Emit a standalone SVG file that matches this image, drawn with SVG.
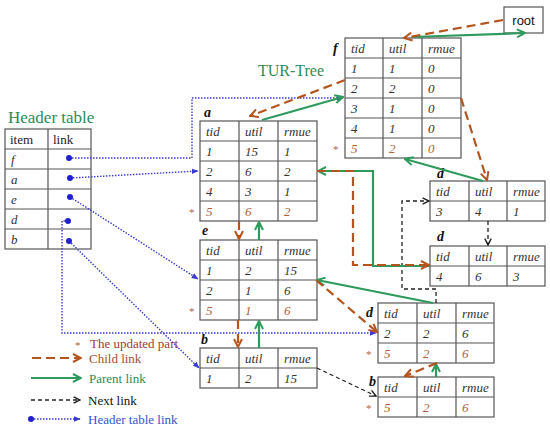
<svg xmlns="http://www.w3.org/2000/svg" width="550" height="428" viewBox="0 0 550 428">
<defs>
<style>
.cell{fill:#fff;stroke:#555;stroke-width:1.2}
.ln{stroke:#555;stroke-width:1.2}
.sf{font-family:"Liberation Serif","Times New Roman","DejaVu Serif",serif}
.t{font-family:"Liberation Serif","Times New Roman","DejaVu Serif",serif;font-size:13px;font-style:italic;fill:#333}
.u{font-family:"Liberation Serif","Times New Roman","DejaVu Serif",serif;font-size:13px;font-style:italic;fill:#b0603a}
.lbl{font-family:"Liberation Serif","Times New Roman","DejaVu Serif",serif;font-size:14px;font-style:italic;font-weight:bold;fill:#111}
.ast{font-family:"Liberation Serif","Times New Roman","DejaVu Serif",serif;font-size:11px;fill:#b0603a}
.ch{fill:none;stroke:#b5541c;stroke-width:2.2;stroke-dasharray:9,5}
.pa{fill:none;stroke:#2e9a5e;stroke-width:2.2}
.nx{fill:none;stroke:#222;stroke-width:1.3;stroke-dasharray:4,3}
.hl{fill:none;stroke:#3a3ad0;stroke-width:1.4;stroke-dasharray:1.5,1.5}
.n{font-family:"Liberation Serif","Times New Roman","DejaVu Serif",serif;font-size:13px;fill:#222}
</style>
<marker id="mb" viewBox="0 0 10 10" refX="9" refY="5" markerWidth="10" markerHeight="10" markerUnits="userSpaceOnUse" orient="auto"><path d="M1,1 L9,5 L1,9" fill="none" stroke="#b5541c" stroke-width="2"/></marker>
<marker id="mg" viewBox="0 0 10 10" refX="9" refY="5" markerWidth="10" markerHeight="10" markerUnits="userSpaceOnUse" orient="auto"><path d="M1,1 L9,5 L1,9" fill="none" stroke="#2e9a5e" stroke-width="2"/></marker>
<marker id="mk" viewBox="0 0 10 10" refX="9" refY="5" markerWidth="8" markerHeight="8" markerUnits="userSpaceOnUse" orient="auto"><path d="M1,1 L9,5 L1,9" fill="none" stroke="#222" stroke-width="1.8"/></marker>
<marker id="ml" viewBox="0 0 10 10" refX="9" refY="5" markerWidth="7" markerHeight="7" markerUnits="userSpaceOnUse" orient="auto"><path d="M0,1 L10,5 L0,9 Z" fill="#3a3ad0"/></marker>
<marker id="md" viewBox="0 0 10 10" refX="5" refY="5" markerWidth="6" markerHeight="6" markerUnits="userSpaceOnUse"><circle cx="5" cy="5" r="5" fill="#2020d0"/></marker>
</defs>
<rect width="550" height="428" fill="#fff"/>

<text x="8" y="123" class="sf" font-size="17" fill="#2e8b57">Header table</text>
<text x="258" y="76" class="sf" font-size="16" fill="#2e8b57">TUR-Tree</text>

<g id="root"><rect x="504" y="7" width="39" height="26" class="cell"/><text x="523.5" y="25" text-anchor="middle" font-family="'Liberation Sans',Arial,sans-serif" font-size="13" fill="#111">root</text></g>

<g id="header-table">
<rect x="5" y="129" width="86" height="120" class="cell"/>
<path class="ln" d="M48,129 V249 M5,149 H91 M5,169 H91 M5,189 H91 M5,209 H91 M5,229 H91"/>
<text x="10" y="144" class="n">item</text><text x="53" y="144" class="n">link</text>
<text x="11" y="164" class="t">f</text><text x="11" y="184" class="t">a</text><text x="11" y="204" class="t">e</text><text x="11" y="224" class="t">d</text><text x="11" y="244" class="t">b</text>
</g>

<g id="node-f">
<text x="333" y="53" class="lbl">f</text>
<rect x="345" y="38" width="116" height="120" class="cell"/>
<path class="ln" d="M383,38 V158 M422,38 V158 M345,58 H461 M345,78 H461 M345,98 H461 M345,118 H461 M345,138 H461"/>
<text x="351" y="53" class="t">tid</text><text x="389" y="53" class="t">util</text><text x="428" y="53" class="t">rmue</text>
<text x="351" y="73" class="t">1</text><text x="389" y="73" class="t">1</text><text x="428" y="73" class="t">0</text>
<text x="351" y="93" class="t">2</text><text x="389" y="93" class="t">2</text><text x="428" y="93" class="t">0</text>
<text x="351" y="113" class="t">3</text><text x="389" y="113" class="t">1</text><text x="428" y="113" class="t">0</text>
<text x="351" y="133" class="t">4</text><text x="389" y="133" class="t">1</text><text x="428" y="133" class="t">0</text>
<text x="333" y="153" class="ast">*</text>
<text x="351" y="153" class="u">5</text><text x="389" y="153" class="u">2</text><text x="428" y="153" class="u">0</text>
</g>

<g id="node-a">
<text x="204" y="117" class="lbl">a</text>
<rect x="200" y="121" width="117" height="100" class="cell"/>
<path class="ln" d="M239,121 V221 M278,121 V221 M200,141 H317 M200,161 H317 M200,181 H317 M200,201 H317"/>
<text x="206" y="136" class="t">tid</text><text x="245" y="136" class="t">util</text><text x="284" y="136" class="t">rmue</text>
<text x="206" y="156" class="t">1</text><text x="245" y="156" class="t">15</text><text x="284" y="156" class="t">1</text>
<text x="206" y="176" class="t">2</text><text x="245" y="176" class="t">6</text><text x="284" y="176" class="t">2</text>
<text x="206" y="196" class="t">4</text><text x="245" y="196" class="t">3</text><text x="284" y="196" class="t">1</text>
<text x="189" y="216" class="ast">*</text>
<text x="206" y="216" class="u">5</text><text x="245" y="216" class="u">6</text><text x="284" y="216" class="u">2</text>
</g>

<g id="node-e">
<text x="202" y="235" class="lbl">e</text>
<rect x="200" y="240" width="117" height="80" class="cell"/>
<path class="ln" d="M239,240 V320 M278,240 V320 M200,260 H317 M200,280 H317 M200,300 H317"/>
<text x="206" y="255" class="t">tid</text><text x="245" y="255" class="t">util</text><text x="284" y="255" class="t">rmue</text>
<text x="206" y="275" class="t">1</text><text x="245" y="275" class="t">2</text><text x="284" y="275" class="t">15</text>
<text x="206" y="295" class="t">2</text><text x="245" y="295" class="t">1</text><text x="284" y="295" class="t">6</text>
<text x="189" y="315" class="ast">*</text>
<text x="206" y="315" class="u">5</text><text x="245" y="315" class="u">1</text><text x="284" y="315" class="u">6</text>
</g>

<g id="node-b1">
<text x="201" y="344" class="lbl">b</text>
<rect x="200" y="348" width="117" height="40" class="cell"/>
<path class="ln" d="M239,348 V388 M278,348 V388 M200,368 H317"/>
<text x="206" y="363" class="t">tid</text><text x="245" y="363" class="t">util</text><text x="284" y="363" class="t">rmue</text>
<text x="206" y="383" class="t">1</text><text x="245" y="383" class="t">2</text><text x="284" y="383" class="t">15</text>
</g>

<g id="node-d1">
<text x="437" y="178" class="lbl">d</text>
<rect x="430" y="181" width="115" height="40" class="cell"/>
<path class="ln" d="M469,181 V221 M507,181 V221 M430,201 H545"/>
<text x="436" y="196" class="t">tid</text><text x="475" y="196" class="t">util</text><text x="513" y="196" class="t">rmue</text>
<text x="436" y="216" class="t">3</text><text x="475" y="216" class="t">4</text><text x="513" y="216" class="t">1</text>
</g>

<g id="node-d2">
<text x="437" y="241" class="lbl">d</text>
<rect x="430" y="246" width="115" height="40" class="cell"/>
<path class="ln" d="M469,246 V286 M507,246 V286 M430,266 H545"/>
<text x="436" y="261" class="t">tid</text><text x="475" y="261" class="t">util</text><text x="513" y="261" class="t">rmue</text>
<text x="436" y="281" class="t">4</text><text x="475" y="281" class="t">6</text><text x="513" y="281" class="t">3</text>
</g>

<g id="node-d3">
<text x="366" y="317" class="lbl">d</text>
<rect x="378" y="303" width="116" height="60" class="cell"/>
<path class="ln" d="M417,303 V363 M456,303 V363 M378,323 H494 M378,343 H494"/>
<text x="384" y="318" class="t">tid</text><text x="423" y="318" class="t">util</text><text x="462" y="318" class="t">rmue</text>
<text x="384" y="338" class="t">2</text><text x="423" y="338" class="t">2</text><text x="462" y="338" class="t">6</text>
<text x="366" y="358" class="ast">*</text>
<text x="384" y="358" class="u">5</text><text x="423" y="358" class="u">2</text><text x="462" y="358" class="u">6</text>
</g>

<g id="node-b2">
<text x="369" y="386" class="lbl">b</text>
<rect x="378" y="377" width="116" height="40" class="cell"/>
<path class="ln" d="M417,377 V417 M456,377 V417 M378,397 H494"/>
<text x="384" y="392" class="t">tid</text><text x="423" y="392" class="t">util</text><text x="462" y="392" class="t">rmue</text>
<text x="366" y="412" class="ast">*</text>
<text x="384" y="412" class="u">5</text><text x="423" y="412" class="u">2</text><text x="462" y="412" class="u">6</text>
</g>

<g id="connectors">
<path class="hl" d="M69,158 H192 V98 H343" marker-start="url(#md)" marker-end="url(#ml)"/>
<path class="hl" d="M70,178 L198,171" marker-start="url(#md)" marker-end="url(#ml)"/>
<path class="hl" d="M70,197 L198,279" marker-start="url(#md)" marker-end="url(#ml)"/>
<path class="hl" d="M68,221 H62 V333 H376" marker-start="url(#md)" marker-end="url(#ml)"/>
<path class="hl" d="M69,241 L199,368" marker-start="url(#md)" marker-end="url(#ml)"/>

<path class="nx" d="M488,221 V245" marker-end="url(#mk)"/>
<path class="nx" d="M436,303 V289 H402 V201 H429" marker-end="url(#mk)"/>
<path class="nx" d="M317,368 L376,396" marker-end="url(#mk)"/>

<path class="pa" d="M412,37 L525,33" marker-end="url(#mg)"/>
<path class="pa" d="M262,120 L343,97" marker-end="url(#mg)"/>
<path class="pa" d="M483,181 L405,159" marker-end="url(#mg)"/>
<path class="pa" d="M430,266 H373 V171 H318" marker-end="url(#mg)"/>
<path class="pa" d="M259,240 V222" marker-end="url(#mg)"/>
<path class="pa" d="M259,348 V321" marker-end="url(#mg)"/>
<path class="pa" d="M433,303 L317,280" marker-end="url(#mg)"/>
<path class="pa" d="M436,377 V364" marker-end="url(#mg)"/>

<path class="ch" d="M503,20 L404,38" marker-end="url(#mb)"/>
<path class="ch" d="M345,80 L250,116" marker-end="url(#mb)"/>
<path class="ch" d="M461,98 L487,180" marker-end="url(#mb)"/>
<path class="ch" d="M317,171 H353 V265 H429" marker-end="url(#mb)"/>
<path class="ch" d="M239,221 V239" marker-end="url(#mb)"/>
<path class="ch" d="M238,320 V347" marker-end="url(#mb)"/>
<path class="ch" d="M316,280 L377,332" marker-end="url(#mb)"/>
<path class="ch" d="M437,363 L405,376" marker-end="url(#mb)"/>
</g>

<g id="legend">
<text x="75" y="349" class="ast">*</text>
<text x="90" y="348" class="sf" font-size="13" fill="#a0402a">The updated part</text>
<path class="ch" d="M32,358 H81" marker-end="url(#mb)"/>
<text x="89" y="363" class="sf" font-size="13" fill="#a0522d">Child link</text>
<path class="pa" d="M31,378 H81" marker-end="url(#mg)"/>
<text x="89" y="383" class="sf" font-size="13" fill="#2e8b57">Parent link</text>
<path class="nx" d="M31,400 H80" marker-end="url(#mk)"/>
<text x="88" y="405" class="sf" font-size="13" fill="#111">Next link</text>
<path class="hl" d="M31,419 H80" marker-start="url(#md)" marker-end="url(#ml)"/>
<text x="88" y="424" class="sf" font-size="13" fill="#3355cc">Header table link</text>
</g>
</svg>
